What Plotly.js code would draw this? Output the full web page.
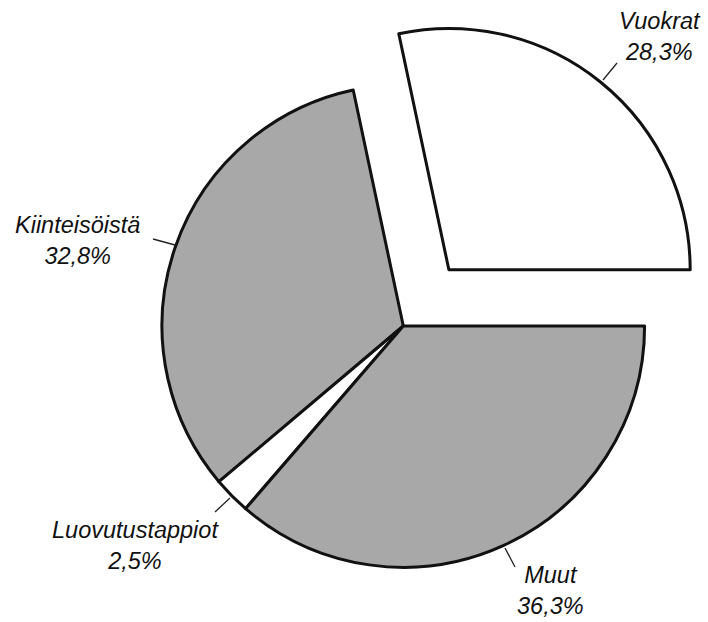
<!DOCTYPE html>
<html>
<head>
<meta charset="utf-8">
<script src="https://cdn.plot.ly/plotly-3.0.1.min.js"></script>
<style>
html,body{margin:0;padding:0;background:#fff;overflow:hidden;width:708px;height:622px;}
#chart{width:717px;height:652px;}
</style>
</head>
<body>
<div id="chart"></div>
<script>
const labels = ["Vuokrat", "Kiinteisöistä", "Luovutustappiot", "Muut"];
const values = [28.3, 32.8, 2.5, 36.3];
const valueText = ["28,3%", "32,8%", "2,5%", "36,3%"];
const pulls = [0.3, 0, 0, 0];
const fills = ["#ffffff", "#a8a8a8", "#ffffff", "#a8a8a8"];

const W = 717, H = 652;
// label placement (pixels), vertical anchors and leader lines
const labelPos = [[660, 36], [77, 240], [135, 545], [550, 621]];
const labelAnchor = ['middle', 'middle', 'middle', 'bottom'];
const leaders = [[[603, 80], [617, 63]], [[153, 239], [175, 245]], [[215, 512], [230, 498]], [[505, 548], [515, 567]]];

const px = x => x / W, py = y => 1 - y / H;

const annotations = labels.map((l, i) => ({
  xref: 'paper', yref: 'paper',
  x: px(labelPos[i][0]), y: py(labelPos[i][1]),
  xanchor: 'center', yanchor: labelAnchor[i],
  text: l + '<br>' + valueText[i],
  showarrow: false,
  font: {family: 'Liberation Sans, Arial, sans-serif', size: 23.5, color: '#111', style: 'italic'}
}));
const shapes = leaders.map(seg => ({
  type: 'line', xref: 'paper', yref: 'paper',
  x0: px(seg[0][0]), y0: py(seg[0][1]), x1: px(seg[1][0]), y1: py(seg[1][1]),
  line: {color: '#222', width: 1.3}
}));

// first slice (Vuokrat) runs from 3 o'clock counterclockwise
const total = values.reduce((a, b) => a + b, 0);
const rotation = 90 - values[0] / total * 360;

Plotly.newPlot('chart', [{
  type: 'pie',
  labels: labels,
  values: values,
  sort: false,
  direction: 'counterclockwise',
  rotation: rotation,
  pull: pulls,
  textinfo: 'none',
  hoverinfo: 'label+percent',
  marker: {colors: fills, line: {color: '#111', width: 3}},
  domain: {x: [0.125, 1], y: [0, 1]}
}], {
  width: W, height: H,
  margin: {l: 0, r: 0, t: 0, b: 0},
  showlegend: false,
  paper_bgcolor: '#fff',
  annotations: annotations,
  shapes: shapes
}, {staticPlot: true});
</script>
</body>
</html>
